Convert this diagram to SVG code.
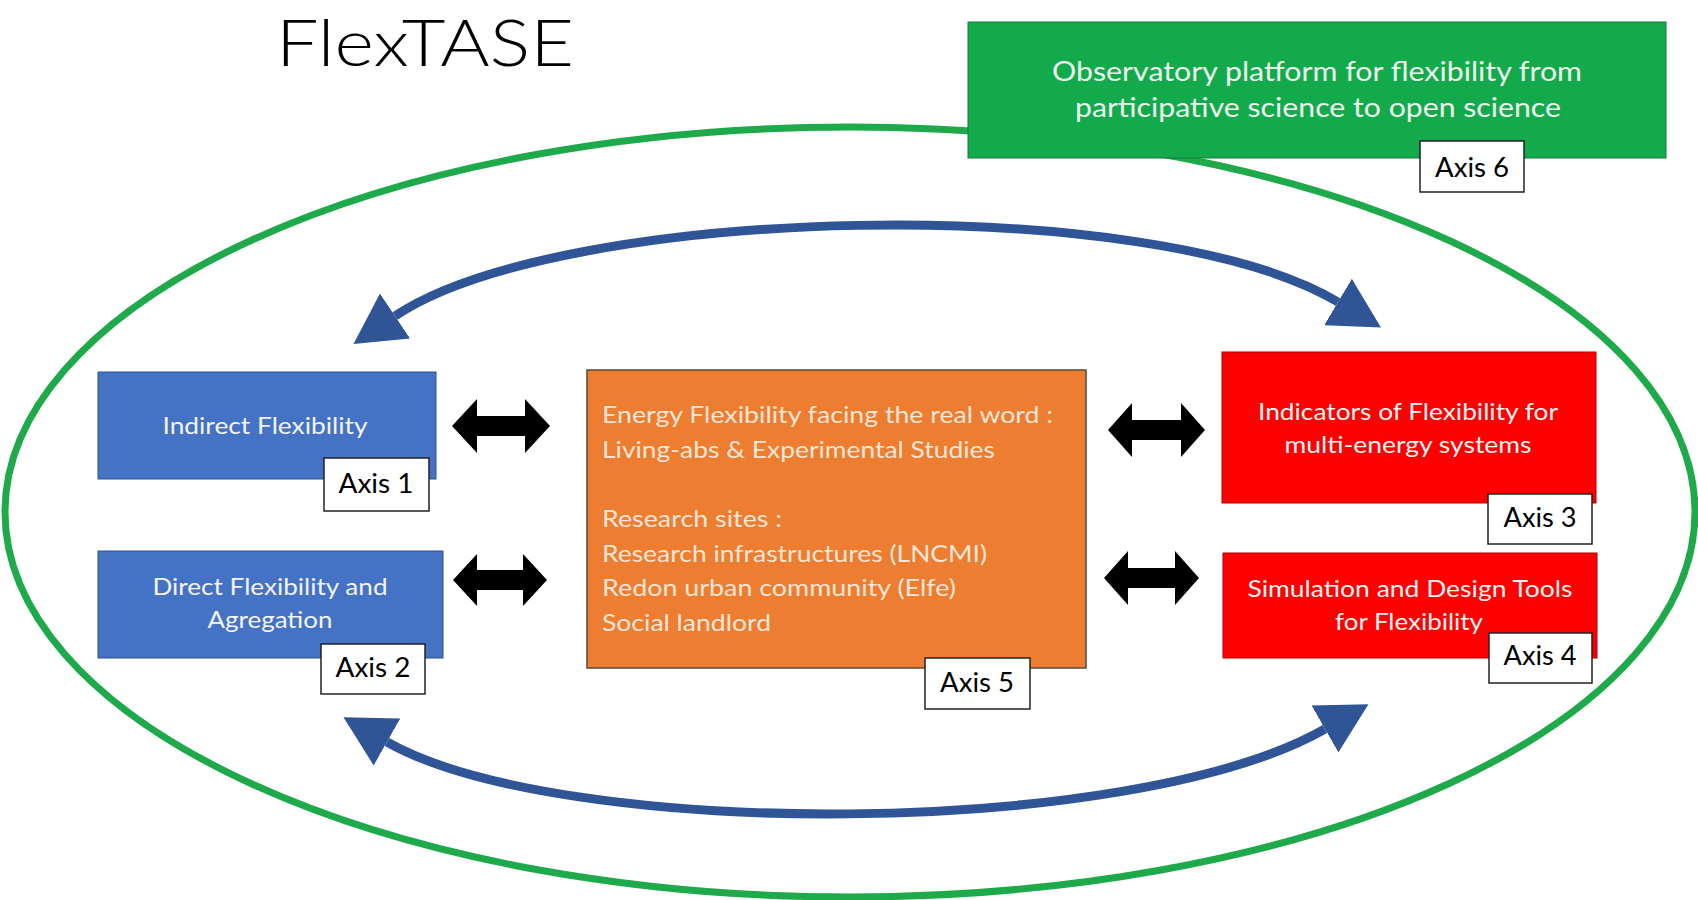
<svg xmlns="http://www.w3.org/2000/svg" width="1698" height="900" viewBox="0 0 1698 900">
<style>
text{font-family:Lato,"Liberation Sans",sans-serif}
.title{font-size:66px;font-weight:300;fill:#000}
.wt{font-size:24px;fill:#F4F4F4}
.gt{font-size:27px;fill:#EEF8EE}
.ot{font-size:23px;fill:#FBE6D6}
.ax{font-size:26px;fill:#000;text-anchor:middle}
.lbl{fill:#fff;stroke:#222;stroke-width:1.5}
.blue{fill:#4472C4;stroke:#2F528F;stroke-width:1}
.red{fill:#FF0000;stroke:#B00000;stroke-width:1}
.dbl{fill:#000}
.arc{fill:none;stroke:#2F5597;stroke-width:9}
</style>
<defs>
<marker id="bh" viewBox="0 0 50 54" refX="0" refY="27" markerWidth="50" markerHeight="54" markerUnits="userSpaceOnUse" orient="auto-start-reverse">
<path d="M0,0 L50,27 L0,54 z" fill="#2F5597"/>
</marker>
</defs>
<rect width="1698" height="900" fill="#fff"/>
<text class="title" x="276" y="66" textLength="298" lengthAdjust="spacingAndGlyphs">FlexTASE</text>
<g id="frame">
<ellipse cx="850" cy="512" rx="845" ry="385" fill="none" stroke="#1EAA4A" stroke-width="7"/>
</g>
<g id="connectors">
<path class="arc" d="M395,316 C560,205 1150,190 1338,302" marker-start="url(#bh)" marker-end="url(#bh)"/>
<path class="arc" d="M387,742 C560,840 1130,840 1325,729" marker-start="url(#bh)" marker-end="url(#bh)"/>
<polygon class="dbl" points="452,426 477,399 477,416 525,416 525,399 550,426 525,453 525,436 477,436 477,453"/>
<polygon class="dbl" points="453,580 477,554 477,570 523,570 523,554 547,580 523,606 523,590 477,590 477,606"/>
<polygon class="dbl" points="1108,430 1132,403 1132,420 1181,420 1181,403 1205,430 1181,457 1181,440 1132,440 1132,457"/>
<polygon class="dbl" points="1104,578 1128,551 1128,568 1175,568 1175,551 1199,578 1175,605 1175,588 1128,588 1128,605"/>
</g>
<g id="axis6">
<rect x="968" y="22" width="698" height="136" fill="#12AA4B" stroke="#0E7A36" stroke-width="1"/>
<text class="gt" x="1317" y="81" text-anchor="middle" textLength="530" lengthAdjust="spacingAndGlyphs">Observatory platform for flexibility from</text>
<text class="gt" x="1318" y="117" text-anchor="middle" textLength="486" lengthAdjust="spacingAndGlyphs">participative science to open science</text>
<rect class="lbl" x="1420" y="141" width="104" height="51"/>
<text class="ax" x="1472" y="177" textLength="74" lengthAdjust="spacingAndGlyphs">Axis 6</text>
</g>
<g id="axis1">
<rect class="blue" x="98" y="372" width="338" height="107"/>
<text class="wt" x="265" y="434" text-anchor="middle" textLength="205" lengthAdjust="spacingAndGlyphs">Indirect Flexibility</text>
<rect class="lbl" x="324" y="458" width="105" height="53"/>
<text class="ax" x="376" y="493" textLength="75" lengthAdjust="spacingAndGlyphs">Axis 1</text>
</g>
<g id="axis2">
<rect class="blue" x="98" y="551" width="345" height="107"/>
<text class="wt" x="270" y="595" text-anchor="middle" textLength="235" lengthAdjust="spacingAndGlyphs">Direct Flexibility and</text>
<text class="wt" x="270" y="628" text-anchor="middle" textLength="125" lengthAdjust="spacingAndGlyphs">Agregation</text>
<rect class="lbl" x="321" y="644" width="104" height="50"/>
<text class="ax" x="373" y="677" textLength="75" lengthAdjust="spacingAndGlyphs">Axis 2</text>
</g>
<g id="axis5">
<rect x="587" y="370" width="499" height="298" fill="#ED7D31" stroke="#5A4A3A" stroke-width="1.5"/>
<text class="ot" x="602" y="423" textLength="451" lengthAdjust="spacingAndGlyphs">Energy Flexibility facing the real word :</text>
<text class="ot" x="602" y="458" textLength="393" lengthAdjust="spacingAndGlyphs">Living-abs &amp; Experimental Studies</text>
<text class="ot" x="602" y="527" textLength="180" lengthAdjust="spacingAndGlyphs">Research sites :</text>
<text class="ot" x="602" y="562" textLength="385" lengthAdjust="spacingAndGlyphs">Research infrastructures (LNCMI)</text>
<text class="ot" x="602" y="596" textLength="354" lengthAdjust="spacingAndGlyphs">Redon urban community (Elfe)</text>
<text class="ot" x="602" y="631" textLength="169" lengthAdjust="spacingAndGlyphs">Social landlord</text>
<rect class="lbl" x="925" y="658" width="105" height="51"/>
<text class="ax" x="977" y="692" textLength="74" lengthAdjust="spacingAndGlyphs">Axis 5</text>
</g>
<g id="axis3">
<rect class="red" x="1222" y="352" width="374" height="151"/>
<text class="wt" x="1408" y="420" text-anchor="middle" textLength="300" lengthAdjust="spacingAndGlyphs">Indicators of Flexibility for</text>
<text class="wt" x="1408" y="453" text-anchor="middle" textLength="247" lengthAdjust="spacingAndGlyphs">multi-energy systems</text>
<rect class="lbl" x="1488" y="494" width="104" height="50"/>
<text class="ax" x="1540" y="527" textLength="73" lengthAdjust="spacingAndGlyphs">Axis 3</text>
</g>
<g id="axis4">
<rect class="red" x="1223" y="553" width="374" height="105"/>
<text class="wt" x="1410" y="597" text-anchor="middle" textLength="325" lengthAdjust="spacingAndGlyphs">Simulation and Design Tools</text>
<text class="wt" x="1409" y="630" text-anchor="middle" textLength="148" lengthAdjust="spacingAndGlyphs">for Flexibility</text>
<rect class="lbl" x="1489" y="633" width="103" height="50"/>
<text class="ax" x="1540" y="665" textLength="73" lengthAdjust="spacingAndGlyphs">Axis 4</text>
</g>
</svg>
